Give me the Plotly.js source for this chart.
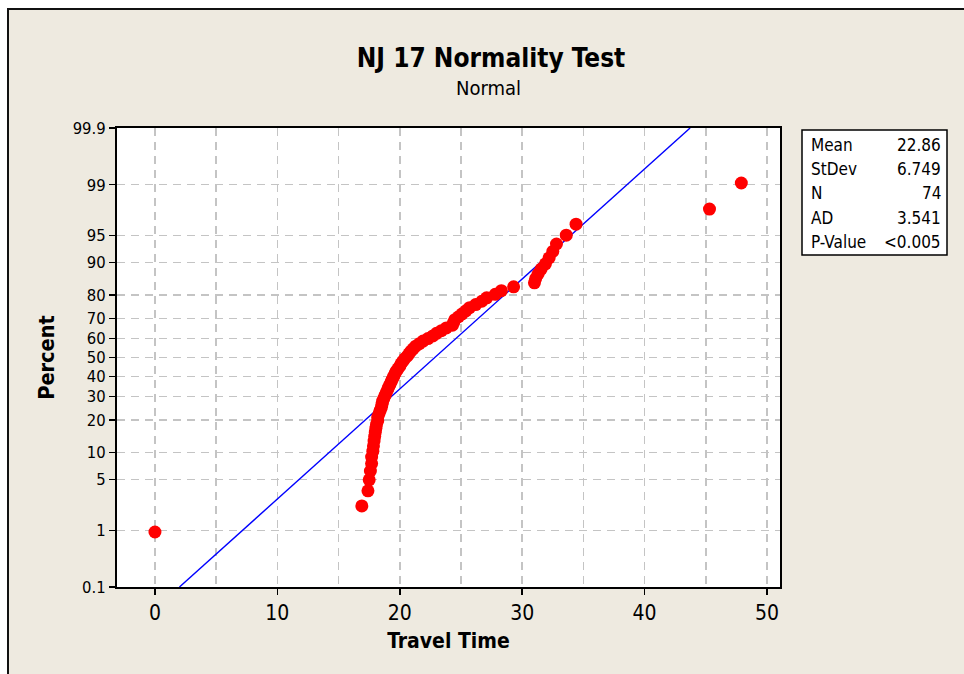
<!DOCTYPE html>
<html>
<head>
<meta charset="utf-8">
<script src="https://cdn.plot.ly/plotly-3.0.1.min.js"></script>
<style>
  html, body { margin: 0; padding: 0; background: #ffffff; }
  #frame { position: absolute; left: 7px; top: 8px; width: 970px; height: 680px;
           background: #eeeae0; border-top: 2px solid #111; border-left: 2px solid #111; }
  #chart { position: absolute; left: 0; top: 0; width: 964px; height: 674px; }
</style>
</head>
<body>
<div id="frame"></div>
<div id="chart"></div>
<script>
// Sorted travel times
const travelTime = [
  0.0, 16.9, 17.4, 17.5, 17.6, 17.7, 17.7, 17.8, 17.85, 17.9,
  17.95, 18.0, 18.05, 18.1, 18.2, 18.2, 18.3, 18.4, 18.5, 18.55,
  18.6, 18.7, 18.8, 18.9, 19.0, 19.1, 19.2, 19.3, 19.4, 19.5,
  19.6, 19.7, 19.85, 20.0, 20.1, 20.25, 20.4, 20.6, 20.75, 20.9,
  21.1, 21.3, 21.6, 21.9, 22.3, 22.7, 23.0, 23.4, 23.8, 24.3,
  24.4, 24.5, 24.8, 25.1, 25.4, 25.7, 26.2, 26.7, 27.1, 27.8,
  28.3, 29.3, 31.0, 31.1, 31.3, 31.55, 31.9, 32.2, 32.5, 32.8,
  33.6, 34.4, 45.3, 47.9
];
// Plotting positions (percent) for each ranked point
const percent = [
  0.94, 2.28, 3.63, 4.97, 6.32, 7.66, 9.01, 10.35, 11.69, 13.04,
  14.38, 15.73, 17.07, 18.41, 19.76, 21.10, 22.45, 23.79, 25.13, 26.48,
  27.82, 29.17, 30.51, 31.85, 33.20, 34.54, 35.89, 37.23, 38.58, 39.92,
  41.26, 42.61, 43.95, 45.30, 46.64, 47.98, 49.33, 50.67, 52.02, 53.36,
  54.70, 56.05, 57.39, 58.74, 60.08, 61.42, 62.77, 64.11, 65.46, 66.80,
  68.15, 69.49, 70.83, 72.18, 73.52, 74.87, 76.21, 77.55, 78.90, 80.24,
  81.59, 82.93, 84.27, 85.62, 86.96, 88.31, 89.65, 90.99, 92.34, 93.68,
  95.03, 96.37, 97.72, 99.06
];
const percentTicks = [0.1, 1, 5, 10, 20, 30, 40, 50, 60, 70, 80, 90, 95, 99, 99.9];
const percentTickText = ["0.1", "1", "5", "10", "20", "30", "40", "50", "60", "70", "80", "90", "95", "99", "99.9"];
const xTicks = [0, 10, 20, 30, 40, 50];
const statLabels = ["Mean", "StDev", "N", "AD", "P-Value"];
const statValues = ["22.86", "6.749", "74", "3.541", "<0.005"];
const fitMean = 22.86;
const fitStDev = 6.749;

// Inverse standard normal CDF (Acklam) - probability-scale transform
function normInv(p) {
  const a = [-3.969683028665376e+01, 2.209460984245205e+02, -2.759285104469687e+02, 1.383577518672690e+02, -3.066479806614716e+01, 2.506628277459239e+00];
  const b = [-5.447609879822406e+01, 1.615858368580409e+02, -1.556989798598866e+02, 6.680131188771972e+01, -1.328068155288572e+01];
  const c = [-7.784894002430293e-03, -3.223964580411365e-01, -2.400758277161838e+00, -2.549732539343734e+00, 4.374664141464968e+00, 2.938163982698783e+00];
  const d = [7.784695709041462e-03, 3.224671290700398e-01, 2.445134137142996e+00, 3.754408661907416e+00];
  const pl = 0.02425, ph = 1 - pl;
  let q, r;
  if (p < pl) {
    q = Math.sqrt(-2 * Math.log(p));
    return (((((c[0]*q+c[1])*q+c[2])*q+c[3])*q+c[4])*q+c[5]) / ((((d[0]*q+d[1])*q+d[2])*q+d[3])*q+1);
  } else if (p <= ph) {
    q = p - 0.5; r = q*q;
    return (((((a[0]*r+a[1])*r+a[2])*r+a[3])*r+a[4])*r+a[5])*q / (((((b[0]*r+b[1])*r+b[2])*r+b[3])*r+b[4])*r+1);
  } else {
    q = Math.sqrt(-2 * Math.log(1 - p));
    return -(((((c[0]*q+c[1])*q+c[2])*q+c[3])*q+c[4])*q+c[5]) / ((((d[0]*q+d[1])*q+d[2])*q+d[3])*q+1);
  }
}
const toZ = pc => normInv(pc / 100);

const zLo = toZ(0.1), zHi = toZ(99.9);
const FONT = "Tahoma, 'DejaVu Sans Condensed', 'DejaVu Sans', sans-serif";

const fitTrace = {
  x: [fitMean + zLo * fitStDev, fitMean + zHi * fitStDev],
  y: [zLo, zHi],
  mode: 'lines', type: 'scatter',
  line: { color: '#0000ff', width: 1.4 },
  hoverinfo: 'skip', cliponaxis: true
};
const dataTrace = {
  x: travelTime,
  y: percent.map(toZ),
  mode: 'markers', type: 'scatter',
  marker: { color: '#ff0000', size: 13 },
  cliponaxis: false
};

const px0 = 117, px1 = 780, py0 = 128, py1 = 587;
const W = px1 - px0, H = py1 - py0;
const toPX = x => (x - px0) / W;
const toPY = y => (py1 - y) / H;

const annotations = [
  { text: 'Normal', xref: 'paper', yref: 'paper', x: toPX(488), y: toPY(88),
    xanchor: 'center', yanchor: 'middle', showarrow: false,
    font: { family: FONT, size: 20, color: '#000' } }
];
const rowY = [145, 169, 193, 218, 242];
statLabels.forEach((lab, i) => {
  annotations.push({ text: lab, xref: 'paper', yref: 'paper', x: toPX(809), y: toPY(rowY[i]),
    xanchor: 'left', yanchor: 'middle', showarrow: false,
    font: { family: FONT, size: 17, color: '#000' } });
  annotations.push({ text: statValues[i], xref: 'paper', yref: 'paper', x: toPX(943), y: toPY(rowY[i]),
    xanchor: 'right', yanchor: 'middle', showarrow: false,
    font: { family: FONT, size: 17, color: '#000' } });
});

const layout = {
  width: 964, height: 674,
  margin: { l: px0, r: 964 - px1, t: py0, b: 674 - py1, pad: 0 },
  paper_bgcolor: 'rgba(0,0,0,0)',
  plot_bgcolor: '#ffffff',
  showlegend: false,
  title: { text: '<b>NJ 17 Normality Test</b>', xref: 'container', yref: 'container',
           x: 491/964, y: 1 - 58/674, xanchor: 'center', yanchor: 'middle',
           font: { family: FONT, size: 26, color: '#000' } },
  xaxis: {
    range: [-3.1, 51.06], tickmode: 'array', tickvals: xTicks,
    ticks: 'outside', ticklen: 6, tickwidth: 1.5, tickcolor: '#000',
    showline: true, linecolor: '#000', linewidth: 2, mirror: true,
    showgrid: true, gridcolor: '#c4c4c4', gridwidth: 1.5, griddash: '8px,6px',
    minor: { dtick: 5, tick0: 0, showgrid: true, gridcolor: '#c4c4c4', gridwidth: 1.5, griddash: '8px,6px', ticks: '' },
    zeroline: false,
    tickfont: { family: FONT, size: 21, color: '#000' },
    title: { text: '<b>Travel Time</b>', standoff: 9, font: { family: FONT, size: 21, color: '#000' } }
  },
  yaxis: {
    range: [zLo, zHi], tickmode: 'array', tickvals: percentTicks.map(toZ), ticktext: percentTickText,
    ticks: 'outside', ticklen: 6, tickwidth: 1.5, tickcolor: '#000',
    showline: true, linecolor: '#000', linewidth: 2, mirror: true,
    showgrid: true, gridcolor: '#c4c4c4', gridwidth: 1.5, griddash: '8px,6px',
    zeroline: false,
    tickfont: { family: FONT, size: 16.5, color: '#000' },
    title: { text: '<b>Percent</b>', standoff: 12, font: { family: FONT, size: 21.5, color: '#000' } }
  },
  shapes: [
    { type: 'rect', xref: 'paper', yref: 'paper', x0: toPX(802), x1: toPX(947), y0: toPY(255), y1: toPY(130),
      line: { color: '#000', width: 1.5 }, fillcolor: '#ffffff', layer: 'below' }
  ],
  annotations: annotations
};

Plotly.newPlot('chart', [fitTrace, dataTrace], layout, { displayModeBar: false, staticPlot: true });
</script>
</body>
</html>
